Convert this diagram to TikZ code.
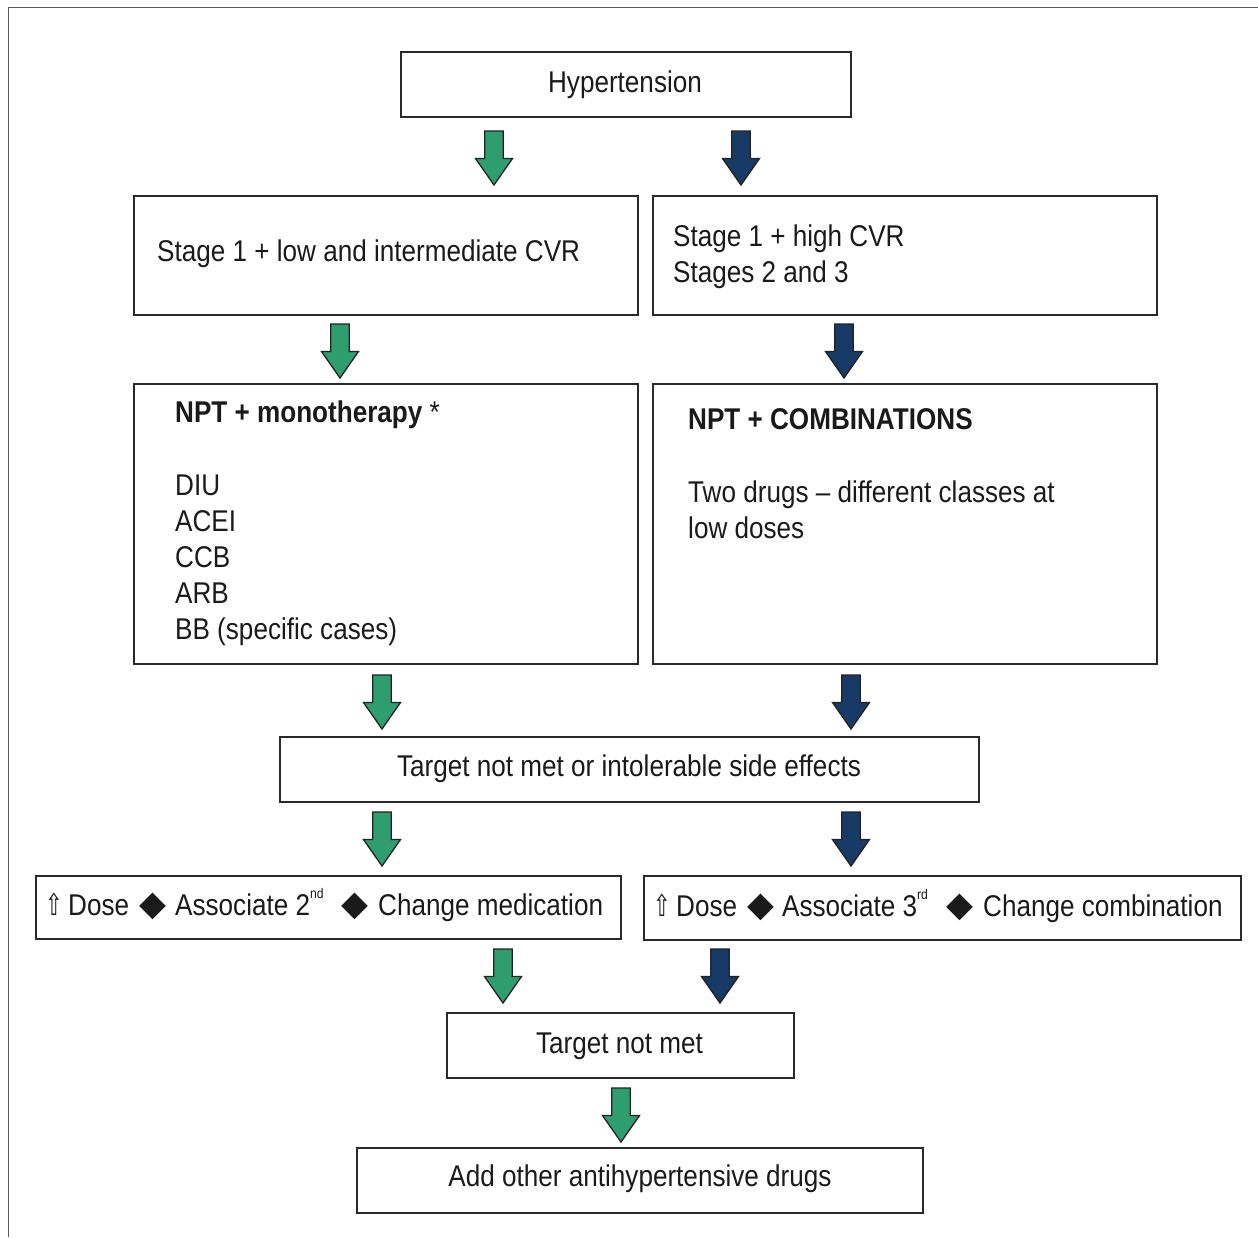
\documentclass[tikz,border=0pt]{standalone}
\usepackage{fontspec}
\usepackage{graphicx}
\setmainfont{Liberation Sans}[FakeStretch=0.87]
\newfontfamily\symfont{DejaVu Sans}
\definecolor{agreen}{HTML}{2E9E6E}
\definecolor{ablue}{HTML}{173A66}
\definecolor{aline}{HTML}{222222}
\definecolor{boxline}{HTML}{2A2A2A}
\definecolor{txtcol}{HTML}{1A1A1A}
\newcommand{\supx}[1]{\raisebox{17pt}{\fontsize{14}{14}\selectfont #1}}
\begin{document}
\begin{tikzpicture}[x=1pt,y=-1pt,
  box/.style={draw=boxline, line width=2pt, rectangle, inner sep=0pt, anchor=north west},
  txt/.style={anchor=base west, inner sep=0pt, text=txtcol, font=\fontsize{30}{36}\selectfont},
  ctxt/.style={txt, anchor=base},
  sym/.style={anchor=base west, inner sep=0pt, text=txtcol, font=\symfont\fontsize{35}{36}\selectfont},
  upa/.style={anchor=base west, inner sep=0pt, text=txtcol, font=\symfont\fontsize{30}{36}\selectfont},
  garrow/.style={fill=agreen, draw=aline, line width=1.3pt, line join=miter},
  barrow/.style={fill=ablue, draw=aline, line width=1.3pt, line join=miter},
  blockarrow/.pic={\path[pic actions] (-9.3,0) -- (9.3,0) -- (9.3,27.5) -- (18.5,27.5) -- (0,54) -- (-18.5,27.5) -- (-9.3,27.5) -- cycle;},
  frame/.style={draw=black!65, line width=1.5pt}
]
\useasboundingbox (0,0) rectangle (1258,1237);
\draw[frame] (8.3,1237) -- (8.3,7.5) -- (1258,7.5);

% boxes
\node[box, minimum width=450pt, minimum height=65pt] (hyp) at (400,51) {};
\node[box, minimum width=504pt, minimum height=119pt] (s1l) at (133,195) {};
\node[box, minimum width=504pt, minimum height=119pt] (s1h) at (652,195) {};
\node[box, minimum width=504pt, minimum height=280pt] (npm) at (133,383) {};
\node[box, minimum width=504pt, minimum height=280pt] (npc) at (652,383) {};
\node[box, minimum width=699pt, minimum height=65pt] (tnm1) at (279,736) {};
\node[box, minimum width=585pt, minimum height=63pt] (dosl) at (35,875) {};
\node[box, minimum width=597pt, minimum height=64pt] (dosr) at (643,875) {};
\node[box, minimum width=347pt, minimum height=65pt] (tnm2) at (446,1012) {};
\node[box, minimum width=566pt, minimum height=65pt] (add) at (356,1147) {};

% texts
\node[ctxt] (thyp) at (625,92.5) {Hypertension};
\node[txt] (ts1l) at (157,261.5) {Stage 1 + low and intermediate CVR};
\node[txt] (ts1ha) at (673,246) {Stage 1 + high CVR};
\node[txt] (ts1hb) at (673,282) {Stages 2 and 3};
\node[txt, font=\fontsize{30}{36}\selectfont\bfseries] (tnpm) at (175,422) {NPT + monotherapy \mdseries*};
\node[txt] (tdiu) at (175,495) {DIU};
\node[txt] (tacei) at (175,531) {ACEI};
\node[txt] (tccb) at (175,567) {CCB};
\node[txt] (tarb) at (175,603) {ARB};
\node[txt] (tbb) at (175,639) {BB (specific cases)};
\node[txt, font=\fontsize{30}{36}\selectfont\bfseries] (tnpc) at (688,429) {NPT + COMBINATIONS};
\node[txt] (ttwo) at (688,502) {Two drugs – different classes at};
\node[txt] (tlow) at (688,538) {low doses};
\node[ctxt] (ttnm1) at (629,776.5) {Target not met or intolerable side effects};
\node[ctxt] (ttnm2) at (619.5,1053.5) {Target not met};
\node[ctxt] (tadd) at (640,1186.5) {Add other antihypertensive drugs};

% dose left
\node[upa] (lup) at (45,915) {\scalebox{0.7}[1]{⇧}};
\node[txt] (ldose) at (68,915) {Dose};
\node[sym] (ld1) at (139,915) {◆};
\node[txt] (lass) at (175,915) {Associate 2\supx{nd}};
\node[sym] (ld2) at (341,915) {◆};
\node[txt] (lchg) at (378,915) {Change medication};
% dose right
\node[upa] (rup) at (653,916) {\scalebox{0.7}[1]{⇧}};
\node[txt] (rdose) at (676,916) {Dose};
\node[sym] (rd1) at (747,916) {◆};
\node[txt] (rass) at (782,916) {Associate 3\supx{rd}};
\node[sym] (rd2) at (946,916) {◆};
\node[txt] (rchg) at (983,916) {Change combination};

% block arrows
\pic[garrow] (a1g) at (494,131) {blockarrow};
\pic[barrow] (a1b) at (741,131) {blockarrow};
\pic[garrow] (a2g) at (340,324) {blockarrow};
\pic[barrow] (a2b) at (844,324) {blockarrow};
\pic[garrow] (a3g) at (382,675) {blockarrow};
\pic[barrow] (a3b) at (851,675) {blockarrow};
\pic[garrow] (a4g) at (382,812) {blockarrow};
\pic[barrow] (a4b) at (851,812) {blockarrow};
\pic[garrow] (a5g) at (503,949) {blockarrow};
\pic[barrow] (a5b) at (720,949) {blockarrow};
\pic[garrow] (a6g) at (621,1088) {blockarrow};
\end{tikzpicture}
\end{document}
